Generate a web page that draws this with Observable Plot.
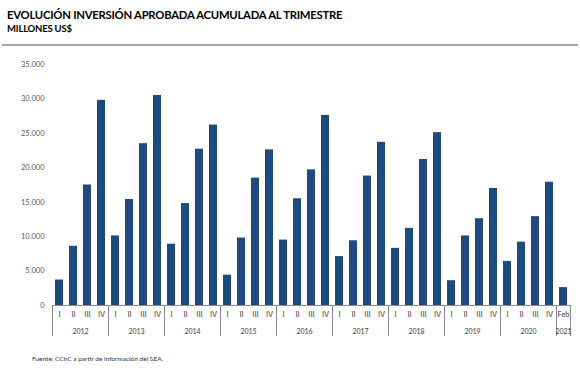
<!DOCTYPE html>
<html><head><meta charset="utf-8">
<script src="https://cdn.jsdelivr.net/npm/d3@7"></script>
<script src="https://cdn.jsdelivr.net/npm/@observablehq/plot@0.6"></script>
<style>
body{margin:0;background:#fff;font-family:Lato,"Open Sans",sans-serif;}
#wrap{position:relative;width:580px;height:378px;overflow:hidden;background:#fff;}
#head{position:relative;height:50px;}
#title{position:absolute;left:7px;top:9px;font-weight:bold;font-size:11.3px;line-height:12px;letter-spacing:-0.25px;color:#000;white-space:nowrap;}
#sub{position:absolute;left:7px;top:24px;font-weight:bold;font-size:9.5px;line-height:10px;letter-spacing:-0.2px;color:#000;white-space:nowrap;}
#rule{position:absolute;left:2px;right:2px;top:44px;height:2px;background:#a6a6a6;}
#foot{position:absolute;left:32px;top:355px;font-size:6.5px;line-height:8px;color:#333;white-space:nowrap;}
#chart svg{display:block;}
</style></head>
<body>
<div id="wrap">
  <div id="head">
    <div id="title">EVOLUCIÓN INVERSIÓN APROBADA ACUMULADA AL TRIMESTRE</div>
    <div id="sub">MILLONES US$</div>
    <div id="rule"></div>
  </div>
  <div id="chart"></div>
  <div id="foot">Fuente: CChC a partir de información del SEA.</div>
</div>
<script>
const years = ["2012","2013","2014","2015","2016","2017","2018","2019","2020"];
const quarters = ["I","II","III","IV"];
const lastYear = "2021";
const lastLabel = "Feb";
const values = [
  3700, 8600, 17500, 29800,
  10100, 15400, 23500, 30500,
  8900, 14800, 22700, 26200,
  4400, 9800, 18500, 22600,
  9500, 15500, 19700, 27600,
  7100, 9400, 18800, 23700,
  8300, 11200, 21200, 25100,
  3600, 10100, 12600, 17000,
  6400, 9200, 12900, 17900,
  2600
];
const yTicks = [0, 5000, 10000, 15000, 20000, 25000, 30000, 35000];

const rows = [];
years.forEach(y => quarters.forEach(q => rows.push({year: y, label: q})));
rows.push({year: lastYear, label: lastLabel});
rows.forEach((r, i) => { r.key = r.year + "-" + r.label; r.value = values[i]; });
const keys = rows.map(r => r.key);
const lastRow = rows[rows.length - 1];
const yearStarts = rows.filter((r, i) => i === 0 || rows[i - 1].year !== r.year);
const fullYears = years.map(y => ({year: y, key: y + "-II"}));

const W = 580, H = 295, mL = 52, mR = 9, mT = 14, mB = 40;
const step = (W - mL - mR) / keys.length;
const fmt = d3.formatLocale({decimal: ",", thousands: ".", grouping: [3], currency: ["", ""]}).format(",");
const gray = "#8c8c8c";

const chart = Plot.plot({
  width: W, height: H,
  marginLeft: mL, marginRight: mR, marginTop: mT, marginBottom: mB,
  style: {fontFamily: "Lato, sans-serif", background: "#fff", color: "#595959", fontSize: "7.5px", overflow: "visible"},
  x: {type: "band", domain: keys, paddingInner: 0.4, paddingOuter: 0.2, axis: null},
  y: {domain: [0, 35000], ticks: yTicks, tickSize: 0, tickPadding: 8, tickFormat: fmt, label: null},
  marks: [
    Plot.barY(rows, {x: "key", y: "value", fill: "#1f4a7e"}),
    Plot.ruleY([0], {stroke: gray}),
    Plot.ruleX(yearStarts, {x: "key", y1: 0, y2: 0, dx: -step / 2, insetBottom: -31, stroke: gray}),
    Plot.ruleX([lastRow], {x: "key", y1: 0, y2: 0, dx: step / 2, insetBottom: -31, stroke: gray}),
    Plot.text(rows, {x: "key", y: 0, text: "label", dy: 9, fontSize: 7.5, fill: "#404040"}),
    Plot.text(fullYears, {x: "key", y: 0, text: "year", dx: step / 2, dy: 26, fontSize: 7, fill: "#404040"}),
    Plot.text([lastRow], {x: "key", y: 0, text: "year", dy: 26, fontSize: 7, fill: "#404040"})
  ]
});
document.getElementById("chart").appendChild(chart);
</script>
</body></html>
